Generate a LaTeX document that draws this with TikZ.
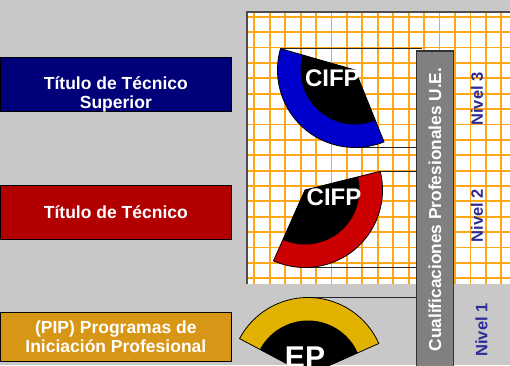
\documentclass[tikz,border=0pt]{standalone}
\usepackage{fontspec}
\setmainfont{Liberation Sans}
\usetikzlibrary{positioning}
\definecolor{fondo}{RGB}{200,200,200}
\definecolor{naranja}{RGB}{255,168,20}
\definecolor{azulosc}{RGB}{0,0,120}
\definecolor{rojoosc}{RGB}{178,0,0}
\definecolor{oro}{RGB}{216,150,22}
\definecolor{azul}{RGB}{0,0,204}
\definecolor{rojo}{RGB}{204,0,0}
\definecolor{amarillo}{RGB}{226,178,0}
\definecolor{nivelc}{RGB}{44,44,150}
\definecolor{barrac}{RGB}{128,128,128}

\begin{document}
\begin{tikzpicture}[x=1pt,y=1pt, caja/.style={draw=black,line width=.8pt,minimum width=231.7,minimum height=54.4,inner sep=0pt,text=white,align=center,font=\bfseries\fontsize{17.5}{19.5}\selectfont}, rotulo/.style={text=white,align=center,inner sep=0pt,font=\bfseries\fontsize{17.5}{19}\selectfont}, nivel/.style={rotate=90,text=nivelc,inner sep=0pt,font=\bfseries\fontsize{16.5}{18}\selectfont}, siglas/.style={text=white,inner sep=0pt,font=\bfseries\fontsize{24}{26}\selectfont}, rejilla/.style={naranja,line width=1.8pt}, linea/.style={black!85,line width=.8pt}]
\useasboundingbox (0,0) rectangle (510,365);
\clip (0,0) rectangle (510,365);
\fill[fondo] (0,0) rectangle (510,365);
% rejilla
\begin{scope}
\clip (247,81) rectangle (510,353);
\fill[white] (247,81) rectangle (510,353);
\foreach \i in {0,...,16} \draw[rejilla] ({254.3+15.44*\i},81) -- ++(0,272);
\foreach \j in {0,...,17} \draw[rejilla] (247,{348.3-15.39*\j}) -- ++(263,0);
\end{scope}
\draw[black!70,line width=1.3pt] (247,81) -- (247,353) -- (512,353);
% centros de los abanicos
\coordinate (cA) at (355,295); \coordinate (cB) at (305,175); \coordinate (cC) at (308,-10);
\coordinate (tope) at (421.7,0);
\path (cA) ++(164:77.5) coordinate (n3a) (cA) ++(0,-77.5) coordinate (n3b) (cB) ++(14:77.5) coordinate (n2a) (cB) ++(0,-77.5) coordinate (n2b) (cC) ++(0,77.5) coordinate (n1a);
\draw[linea] (n3a) -- (n3a -| tope); \draw[linea] (n3b) -- (n3b -| tope);
\draw[linea] (n2a) -- (n2a -| tope); \draw[linea] (n2b) -- (n2b -| tope);
\draw[linea] (n1a) -- (n1a -| tope);
\foreach \c/\a/\col in {cA/164/azul,cB/246/rojo,cC/24/amarillo}{
 \filldraw[fill=\col,draw=black,line width=.8pt] (\c) ++(\a:77.5) arc[start angle=\a,delta angle=128,radius=77.5] -- (\c) -- cycle;
 \fill[black] (\c) -- ++(\a:54.5) arc[start angle=\a,delta angle=128,radius=54.5] -- cycle;}
\node[siglas] (cifp3) at (332.4,287) {CIFP};
\node[siglas] (cifp2) at (334,167.5) {CIFP};
\node[siglas,font=\bfseries\fontsize{30}{32}\selectfont] (ep) at (305,7.5) {EP};
% barra
\node[rotate=90,draw=black!80,line width=1.3pt,fill=barrac,text=white,minimum width=317,minimum height=36.6,inner sep=0pt,font=\bfseries\fontsize{17.3}{19}\selectfont] (cual) at (435,155.5) {Cualificaciones Profesionales U.E.};
\node[nivel] (n3) at (477,266) {Nivel 3};
\node[nivel] (n2) at (477,149.5) {Nivel 2};
\node[nivel] (n1) at (481.5,35) {Nivel 1};
% titulos
\node[caja,fill=azulosc] (tsup) at (115.85,280.5) {};
\node[rotulo] (tsupt) at (115.85,271) {Título de Técnico\\Superior};
\node[caja,fill=rojoosc] (tec) at (115.85,152.5) {Título de Técnico};
\node[caja,fill=oro,minimum height=48.7] (pip) at (115.85,28.3) {(PIP) Programas de\\Iniciación Profesional};
\end{tikzpicture}
\end{document}
